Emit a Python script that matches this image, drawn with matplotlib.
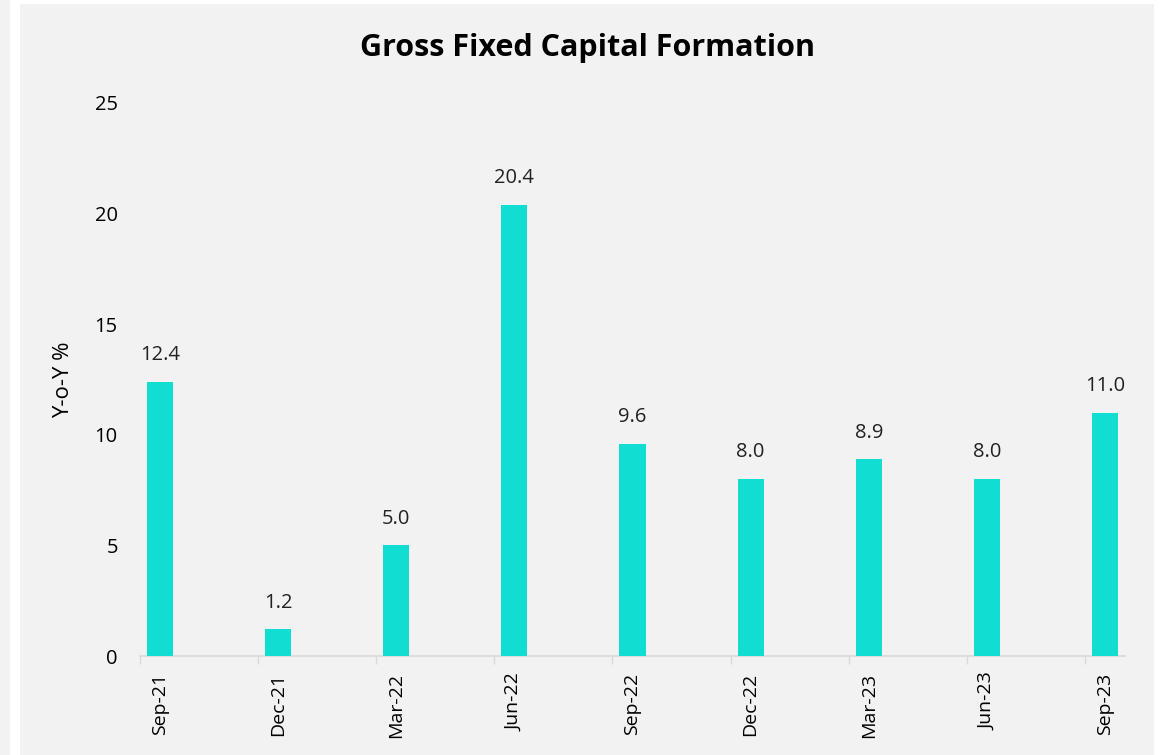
import matplotlib.pyplot as plt
import matplotlib.patches as mpatches
import numpy as np

quarters = ['Sep-21', 'Dec-21', 'Mar-22', 'Jun-22', 'Sep-22', 'Dec-22', 'Mar-23', 'Jun-23', 'Sep-23']
yoy = [12.4, 1.2, 5.0, 20.4, 9.6, 8.0, 8.9, 8.0, 11.0]

W, H = 1161, 755
BG = '#f2f2f2'
BAR = '#12ddd3'

plt.rcParams['font.family'] = ['Open Sans', 'DejaVu Sans']

fig = plt.figure(figsize=(W / 100, H / 100), dpi=100, facecolor='white')
# grey panels behind the chart
fig.patches.append(mpatches.Rectangle((20 / W, 0), 1134 / W, 751 / H, transform=fig.transFigure,
                                      facecolor=BG, edgecolor='none', zorder=-10))
fig.patches.append(mpatches.Rectangle((0, 0), 10 / W, 1, transform=fig.transFigure,
                                      facecolor=BG, edgecolor='none', zorder=-10))

ax = fig.add_axes([140 / W, (H - 656) / H, 985 / W, 553 / H])
ax.set_facecolor(BG)

x = np.arange(len(quarters))
off = 20 / 118
ax.bar(x, yoy, width=26 / 118, color=BAR, zorder=3)
for xi, v in zip(x, yoy):
    ax.text(xi, v + 0.75, f'{v:.1f}', ha='center', va='bottom', fontsize=14.5, color='#222222')

ax.set_xlim(-off, len(quarters) - 1 + off)
ax.set_ylim(0, 25)
ax.set_yticks([0, 5, 10, 15, 20, 25])
ax.tick_params(axis='y', length=0, labelsize=14.5, pad=16)
ax.set_xticks(x)
ax.set_xticklabels(quarters, rotation=90, fontsize=14)
ax.tick_params(axis='x', which='major', length=0, pad=12)
ax.set_xticks(x - off, minor=True)
ax.tick_params(axis='x', which='minor', length=6, color='#d9d9d9', width=1)

for s in ['top', 'right', 'left']:
    ax.spines[s].set_visible(False)
ax.spines['bottom'].set_color('#d9d9d9')
ax.spines['bottom'].set_linewidth(1.2)

ax.set_ylabel('Y-o-Y %', fontsize=16, color='black', fontweight='medium')
ax.yaxis.set_label_coords((74 - 140) / 985, 0.5)
fig.text(588 / W, 1 - 48 / H, 'Gross Fixed Capital Formation', ha='center', va='center',
         fontsize=22, fontweight='bold')

fig.savefig('out.png', dpi=100, facecolor='white')
